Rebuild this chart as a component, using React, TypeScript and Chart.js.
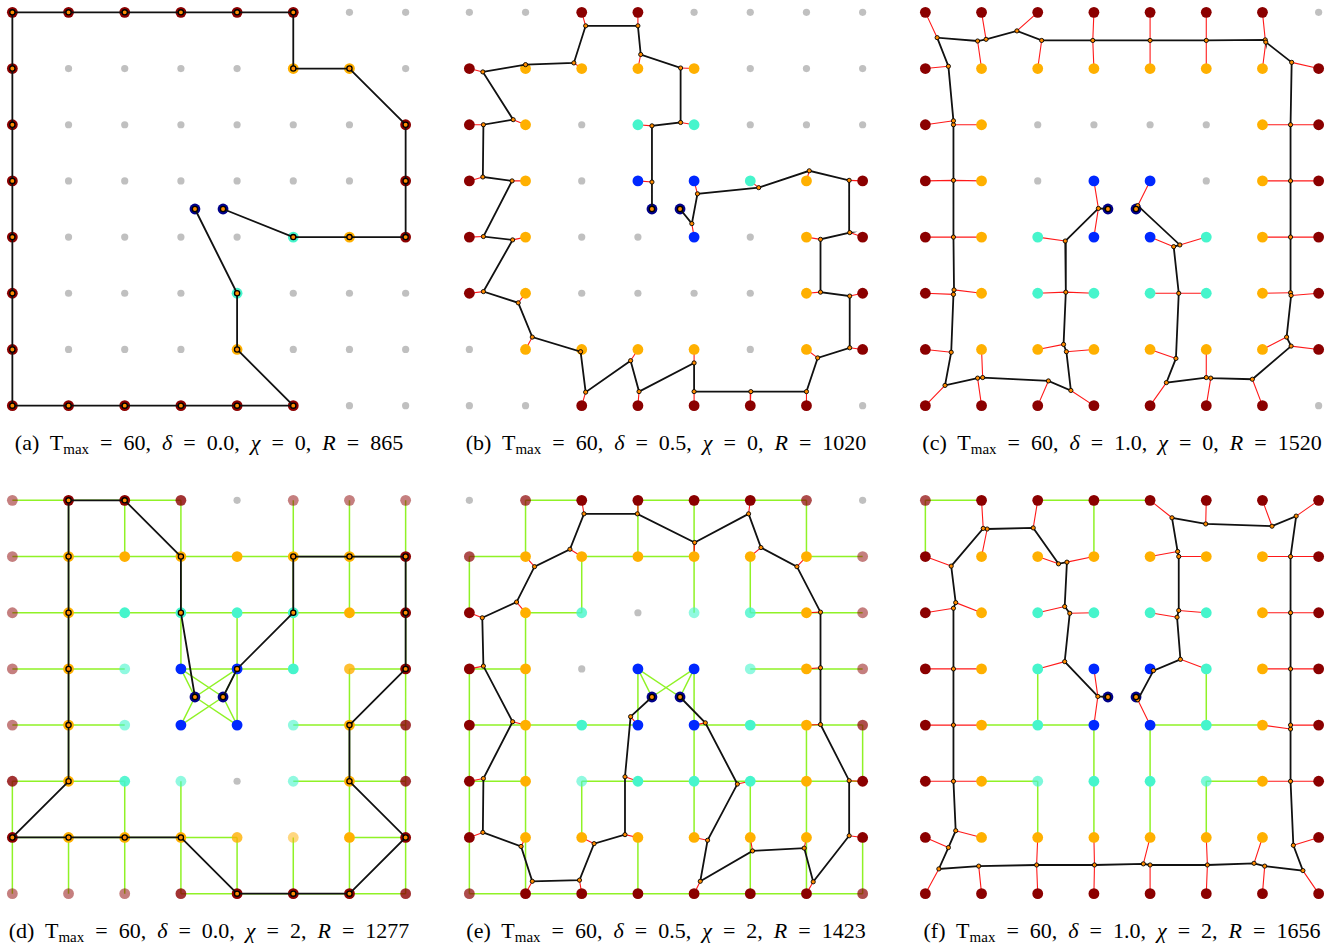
import React, { useEffect, useRef } from "react";
import { Chart, registerables } from "chart.js";
Chart.register(...registerables);

type P = [number, number];
type Obs = [number, number, number];
type Edge = [number, number, number, number];

// ---------- DATA ----------
const DEPOTS: P[] = [[3.25, 3.5], [3.75, 3.5]];

const captionLetters = ["a", "b", "c", "d", "e", "f"];
const tmaxValues = [60, 60, 60, 60, 60, 60];
const deltaValues = ["0.0", "0.5", "1.0", "0.0", "0.5", "1.0"];
const chiValues = [0, 0, 0, 2, 2, 2];
const rewardValues = [865, 1020, 1520, 1277, 1423, 1656];

// node types: R dark red, O orange, C cyan, B blue, G gray
const nodesA = ["RRRRRRGG", "RGGGGOOG", "RGGGGGGR", "RGGGGGGR", "RGGGGCOR", "RGGGCGGG", "RGGGOGGG", "RRRRRRGG"];
const nodesB = ["GGRRGGGG", "ROOOOGGG", "ROGCCGGG", "ROGBBCOR", "ROGGBGOR", "ROGGGGOR", "GOOOOGOR", "GGRRRRRG"];
const nodesC = ["RRRRRRRG", "ROOOOOOR", "ROGGGGOR", "ROGBBGOR", "ROCBBCOR", "ROCCCCOR", "ROOOOOOR", "RRRRRRRG"];
const nodesD = ["RRRRGRRR", "ROOOOOOR", "ROCCCCOR", "ROCBBCOR", "ROCBBCOR", "ROCCGCOR", "ROOOOOOR", "RRRRRRRR"];
const nodesE = ["GRRRRRRG", "ROOOOOOR", "ROCGCCOR", "ROGBBCOR", "ROCBBCOR", "ROCCCCOR", "ROOOOOOR", "RRRRRRRR"];
const nodesF = ["RRRRRRRR", "ROOOOOOR", "ROCCCCOR", "ROCBBCOR", "ROCBBCOR", "ROCCCCOR", "ROOOOOOR", "RRRRRRRR"];

// node opacity (digit d -> (d+1)/10)
const alphaD = ["49979444", "49999999", "49999999", "49599979", "49599597", "79859597", "99997499", "44479997"];
const alphaE = ["96999969", "69999994", "99795794", "99999594", "99999996", "99599999", "99999999", "69999996"];
const alphaF = ["69999999", "99999999", "99999999", "99999999", "99999999", "99699699", "99999999", "99999999"];

const pathA: P[] = [[3.25, 3.5], [4, 5], [4, 6], [5, 7], [4, 7], [3, 7], [2, 7], [1, 7], [0, 7], [0, 6], [0, 5], [0, 4], [0, 3], [0, 2], [0, 1], [0, 0], [1, 0], [2, 0], [3, 0], [4, 0], [5, 0], [5, 1], [6, 1], [7, 2], [7, 3], [7, 4], [6, 4], [5, 4], [3.75, 3.5]];

const pathB: P[] = [[3.25, 3.5], [3.25, 3.02], [3.25, 2.02], [3.76, 1.96], [3.76, 0.99], [3.05, 0.75], [3.0, 0.24], [2.07, 0.24], [1.86, 0.9], [1.0, 0.93], [0.24, 1.06], [0.78, 1.91], [0.25, 2.0], [0.24, 2.93], [0.76, 3.0], [0.25, 3.99], [0.77, 4.05], [0.25, 4.97], [0.87, 5.17], [1.12, 5.78], [1.98, 6.04], [2.07, 6.76], [2.87, 6.2], [3.02, 6.75], [4.0, 6.24], [4.0, 6.75], [5.01, 6.75], [6.0, 6.75], [6.2, 6.15], [6.77, 5.97], [6.77, 5.05], [6.25, 4.98], [6.25, 4.04], [6.77, 3.92], [6.76, 2.99], [6.05, 2.82], [5.15, 3.12], [4.06, 3.23], [3.96, 3.76], [3.75, 3.5]];
const obsB: Obs[] = [[1, 3, 3], [2, 3, 2], [3, 4, 2], [4, 4, 1], [5, 3, 1], [6, 3, 0], [7, 2, 0], [8, 2, 1], [9, 1, 1], [10, 0, 1], [11, 1, 2], [12, 0, 2], [13, 0, 3], [14, 1, 3], [15, 0, 4], [16, 1, 4], [17, 0, 5], [18, 1, 5], [19, 1, 6], [20, 2, 6], [21, 2, 7], [22, 3, 6], [23, 3, 7], [24, 4, 6], [25, 4, 7], [26, 5, 7], [27, 6, 7], [28, 6, 6], [29, 7, 6], [30, 7, 5], [31, 6, 5], [32, 6, 4], [33, 7, 4], [34, 7, 3], [35, 6, 3], [36, 5, 3], [37, 4, 3], [38, 4, 4]];

const pathC: P[] = [[3.25, 3.5], [3.08, 3.49], [2.49, 4.07], [2.5, 4.98], [2.46, 5.91], [2.51, 6.04], [2.59, 6.73], [2.19, 6.56], [1.02, 6.5], [0.93, 6.51], [0.35, 6.64], [0.46, 6.05], [0.5, 5.02], [0.51, 4.94], [0.5, 4.0], [0.5, 2.99], [0.5, 2.0], [0.5, 1.93], [0.41, 0.96], [0.21, 0.45], [0.93, 0.51], [1.08, 0.48], [1.63, 0.33], [2.07, 0.5], [2.98, 0.5], [4.0, 0.5], [5.0, 0.5], [6.05, 0.49], [6.06, 0.53], [6.52, 0.89], [6.5, 2.0], [6.5, 3.0], [6.5, 4.0], [6.5, 4.99], [6.51, 5.04], [6.43, 5.78], [6.51, 5.94], [5.82, 6.53], [5.08, 6.51], [5.0, 6.5], [4.29, 6.59], [4.46, 6.16], [4.51, 5.0], [4.42, 4.17], [4.53, 4.14], [3.78, 3.44], [3.75, 3.5]];
const obsC: Obs[] = [[1, 3, 3], [1, 3, 4], [2, 2, 4], [3, 2, 5], [3, 3, 5], [4, 2, 6], [5, 3, 6], [6, 3, 7], [7, 2, 7], [8, 1, 6], [9, 1, 7], [10, 0, 7], [11, 0, 6], [12, 0, 5], [13, 1, 5], [14, 0, 4], [14, 1, 4], [15, 0, 3], [15, 1, 3], [16, 1, 2], [17, 0, 2], [18, 0, 1], [19, 0, 0], [20, 1, 1], [21, 1, 0], [22, 2, 0], [23, 2, 1], [24, 3, 0], [24, 3, 1], [25, 4, 0], [25, 4, 1], [26, 5, 0], [26, 5, 1], [27, 6, 0], [28, 6, 1], [29, 7, 1], [30, 6, 2], [30, 7, 2], [31, 6, 3], [31, 7, 3], [32, 6, 4], [32, 7, 4], [33, 6, 5], [34, 7, 5], [35, 6, 6], [36, 7, 6], [37, 6, 7], [38, 5, 7], [39, 5, 6], [40, 4, 7], [41, 4, 6], [42, 4, 5], [42, 5, 5], [43, 4, 4], [44, 5, 4], [45, 4, 3]];

const pathD: P[] = [[3.25, 3.5], [3, 2], [3, 1], [2, 0], [1, 0], [1, 1], [1, 2], [1, 3], [1, 4], [1, 5], [0, 6], [1, 6], [2, 6], [3, 6], [4, 7], [5, 7], [6, 7], [7, 6], [6, 5], [6, 4], [7, 3], [7, 2], [7, 1], [6, 1], [5, 1], [5, 2], [4, 3], [3.75, 3.5]];
const edgesD: Edge[] = [
  [0, 0, 1, 0], [1, 0, 2, 0], [2, 0, 3, 0],
  [0, 1, 1, 1], [1, 1, 2, 1], [2, 1, 3, 1], [3, 1, 4, 1], [4, 1, 5, 1], [5, 1, 6, 1], [6, 1, 7, 1],
  [0, 2, 1, 2], [1, 2, 2, 2], [2, 2, 3, 2], [3, 2, 4, 2], [4, 2, 5, 2], [5, 2, 6, 2], [6, 2, 7, 2],
  [0, 3, 1, 3], [1, 3, 2, 3], [3, 3, 4, 3], [4, 3, 5, 3], [6, 3, 7, 3],
  [0, 4, 1, 4], [1, 4, 2, 4], [5, 4, 6, 4], [6, 4, 7, 4],
  [0, 5, 1, 5], [1, 5, 2, 5], [5, 5, 6, 5], [6, 5, 7, 5],
  [0, 6, 1, 6], [1, 6, 2, 6], [2, 6, 3, 6], [3, 6, 4, 6], [6, 6, 7, 6],
  [3, 7, 4, 7], [4, 7, 5, 7], [5, 7, 6, 7], [6, 7, 7, 7],
  [0, 5, 0, 6], [0, 6, 0, 7],
  [1, 0, 1, 1], [1, 1, 1, 2], [1, 2, 1, 3], [1, 3, 1, 4], [1, 4, 1, 5], [1, 6, 1, 7],
  [2, 0, 2, 1], [2, 5, 2, 6], [2, 6, 2, 7],
  [3, 0, 3, 1], [3, 1, 3, 2], [3, 2, 3, 3], [3, 5, 3, 6], [3, 6, 3, 7],
  [4, 2, 4, 3], [4, 3, 4, 4], [4, 6, 4, 7],
  [5, 0, 5, 1], [5, 1, 5, 2], [5, 2, 5, 3], [5, 6, 5, 7],
  [6, 0, 6, 1], [6, 1, 6, 2], [6, 3, 6, 4], [6, 4, 6, 5], [6, 5, 6, 6], [6, 6, 6, 7],
  [7, 0, 7, 1], [7, 1, 7, 2], [7, 2, 7, 3], [7, 3, 7, 4], [7, 4, 7, 5], [7, 5, 7, 6], [7, 6, 7, 7],
  [3.25, 3.5, 3, 3], [3.25, 3.5, 4, 3], [3.25, 3.5, 3, 4], [3.25, 3.5, 4, 4],
  [3.75, 3.5, 3, 3], [3.75, 3.5, 4, 3], [3.75, 3.5, 3, 4], [3.75, 3.5, 4, 4],
];

const pathE: P[] = [[3.25, 3.5], [2.87, 3.85], [2.77, 4.92], [2.77, 5.95], [2.22, 6.11], [1.96, 6.76], [1.12, 6.78], [0.92, 6.16], [0.24, 5.91], [0.25, 4.95], [0.77, 3.94], [0.25, 2.95], [0.23, 2.09], [0.84, 1.81], [1.16, 1.18], [1.79, 0.87], [2.04, 0.24], [2.99, 0.24], [4.01, 0.75], [4.97, 0.24], [5.19, 0.84], [5.83, 1.18], [6.25, 1.99], [6.25, 2.98], [6.25, 3.99], [6.76, 4.99], [6.76, 5.97], [6.12, 6.79], [5.96, 6.19], [5.04, 6.24], [4.11, 6.78], [4.24, 6.05], [4.77, 5.05], [4.2, 3.96], [3.75, 3.5]];
const obsE: Obs[] = [[1, 3, 4], [2, 3, 5], [3, 3, 6], [4, 2, 6], [5, 2, 7], [6, 1, 7], [7, 1, 6], [8, 0, 6], [9, 0, 5], [10, 1, 4], [11, 0, 3], [12, 0, 2], [13, 1, 2], [14, 1, 1], [15, 2, 1], [16, 2, 0], [17, 3, 0], [18, 4, 1], [19, 5, 0], [20, 5, 1], [21, 6, 1], [22, 6, 2], [23, 6, 3], [24, 6, 4], [25, 7, 5], [26, 7, 6], [27, 6, 7], [28, 6, 6], [29, 5, 6], [30, 4, 7], [31, 4, 6], [32, 5, 5], [33, 4, 4]];
const edgesE: Edge[] = [
  [1, 0, 2, 0], [3, 0, 4, 0], [4, 0, 5, 0], [5, 0, 6, 0],
  [0, 1, 1, 1], [2, 1, 3, 1], [3, 1, 4, 1], [6, 1, 7, 1],
  [1, 2, 2, 2], [5, 2, 6, 2], [6, 2, 7, 2],
  [0, 3, 1, 3], [5, 3, 6, 3], [6, 3, 7, 3],
  [0, 4, 1, 4], [1, 4, 2, 4], [2, 4, 3, 4], [4, 4, 5, 4], [5, 4, 6, 4], [6, 4, 7, 4],
  [0, 5, 1, 5], [2, 5, 3, 5], [3, 5, 4, 5], [4, 5, 5, 5], [5, 5, 6, 5], [6, 5, 7, 5],
  [0, 7, 1, 7], [1, 7, 2, 7], [2, 7, 3, 7], [3, 7, 4, 7], [4, 7, 5, 7], [5, 7, 6, 7], [6, 7, 7, 7],
  [0, 1, 0, 2], [0, 3, 0, 4], [0, 4, 0, 5], [0, 5, 0, 6], [0, 6, 0, 7],
  [1, 0, 1, 1], [1, 2, 1, 3], [1, 3, 1, 4], [1, 4, 1, 5], [1, 5, 1, 6], [1, 6, 1, 7],
  [2, 1, 2, 2], [2, 5, 2, 6],
  [3, 0, 3, 1], [3, 3, 3, 4], [3, 6, 3, 7],
  [4, 0, 4, 1], [4, 1, 4, 2], [4, 3, 4, 4], [4, 4, 4, 5], [4, 5, 4, 6],
  [5, 1, 5, 2], [5, 5, 5, 6], [5, 6, 5, 7],
  [6, 0, 6, 1], [6, 4, 6, 5], [6, 5, 6, 6], [6, 6, 6, 7],
  [7, 4, 7, 5], [7, 6, 7, 7],
  [3.25, 3.5, 3, 3], [3.25, 3.5, 4, 3], [3.75, 3.5, 3, 3], [3.75, 3.5, 4, 3],
];

const pathF: P[] = [[3.25, 3.5], [3.07, 3.49], [2.48, 2.87], [2.57, 2.01], [2.48, 1.89], [2.52, 1.1], [2.37, 1.13], [1.92, 0.49], [1.1, 0.51], [1.03, 0.5], [0.46, 1.17], [0.54, 1.82], [0.5, 1.92], [0.5, 3.0], [0.5, 4.0], [0.5, 5.0], [0.54, 5.88], [0.41, 6.18], [0.24, 6.56], [0.95, 6.51], [1.98, 6.49], [3.01, 6.49], [3.88, 6.47], [4.0, 6.49], [5.02, 6.49], [5.85, 6.46], [6.04, 6.51], [6.72, 6.59], [6.55, 6.14], [6.5, 5.0], [6.5, 4.07], [6.5, 4.0], [6.5, 3.0], [6.5, 2.0], [6.5, 1.0], [6.6, 0.28], [6.17, 0.46], [4.99, 0.42], [4.39, 0.31], [4.49, 0.91], [4.51, 1.0], [4.51, 1.96], [4.48, 2.08], [4.54, 2.83], [4.06, 3.03], [3.78, 3.55], [3.75, 3.5]];
const obsF: Obs[] = [[1, 3, 3], [1, 3, 4], [2, 2, 3], [3, 3, 2], [4, 2, 2], [5, 3, 1], [6, 2, 1], [7, 2, 0], [8, 1, 1], [9, 1, 0], [10, 0, 1], [11, 1, 2], [12, 0, 2], [13, 0, 3], [13, 1, 3], [14, 0, 4], [14, 1, 4], [15, 0, 5], [15, 1, 5], [16, 1, 6], [17, 0, 6], [18, 0, 7], [19, 1, 7], [20, 2, 6], [20, 2, 7], [21, 3, 6], [21, 3, 7], [22, 4, 6], [23, 4, 7], [24, 5, 6], [24, 5, 7], [25, 6, 6], [26, 6, 7], [27, 7, 7], [28, 7, 6], [29, 6, 5], [29, 7, 5], [30, 6, 4], [31, 7, 4], [32, 6, 3], [32, 7, 3], [33, 6, 2], [33, 7, 2], [34, 6, 1], [34, 7, 1], [35, 7, 0], [36, 6, 0], [37, 5, 0], [38, 4, 0], [39, 4, 1], [40, 5, 1], [41, 5, 2], [42, 4, 2], [43, 5, 3], [44, 4, 3], [45, 4, 4]];
const edgesF: Edge[] = [
  [0, 0, 1, 0], [2, 0, 3, 0], [3, 0, 4, 0], [0, 0, 0, 1], [3, 0, 3, 1],
  [2, 3, 2, 4], [5, 3, 5, 4],
  [1, 4, 2, 4], [2, 4, 3, 4], [4, 4, 5, 4], [5, 4, 6, 4],
  [3, 4, 3, 5], [3, 5, 3, 6], [4, 4, 4, 5], [4, 5, 4, 6],
  [1, 5, 2, 5], [2, 5, 2, 6], [5, 5, 6, 5], [5, 5, 5, 6],
];

// ---------- STYLE ----------
const NODE_RGB: Record<string, [number, number, number]> = {
  R: [139, 0, 0],
  O: [255, 176, 0],
  C: [70, 245, 204],
  B: [0, 40, 255],
  G: [192, 192, 192],
};
const GREEN = "rgba(124,240,0,0.85)";
const RED = "rgba(255,0,0,0.9)";
const NAVY = "#00008B";
const VERTEX = "#FF8C00";

type PanelDef = {
  nodes: string[];
  alpha?: string[];
  path: P[];
  obs?: Obs[];
  edges?: Edge[];
  onGrid: boolean;
};

const PANELS: PanelDef[] = [
  { nodes: nodesA, path: pathA, onGrid: true },
  { nodes: nodesB, path: pathB, obs: obsB, onGrid: false },
  { nodes: nodesC, path: pathC, obs: obsC, onGrid: false },
  { nodes: nodesD, alpha: alphaD, path: pathD, edges: edgesD, onGrid: true },
  { nodes: nodesE, alpha: alphaE, path: pathE, obs: obsE, edges: edgesE, onGrid: false },
  { nodes: nodesF, alpha: alphaF, path: pathF, obs: obsF, edges: edgesF, onGrid: false },
];

const SIZE = 418;
const LEFTS = [0, 457, 913];
const TOPS = [0, 488];

function buildConfig(p: PanelDef): any {
  const datasets: any[] = [];
  if (p.edges) {
    const d: any[] = [];
    for (const [a, b, c, e] of p.edges) d.push({ x: a, y: b }, { x: c, y: e }, { x: c, y: null });
    datasets.push({ data: d, showLine: true, borderColor: GREEN, borderWidth: 1.5, pointRadius: 0, order: 60 });
  }
  if (p.obs) {
    const d: any[] = [];
    for (const [vi, c, r] of p.obs) {
      const v = p.path[vi];
      d.push({ x: v[0], y: v[1] }, { x: c, y: r }, { x: c, y: null });
    }
    datasets.push({ data: d, showLine: true, borderColor: RED, borderWidth: 1.1, pointRadius: 0, order: 50 });
  }
  const nd: any[] = [];
  const bg: string[] = [];
  const rad: number[] = [];
  p.nodes.forEach((row, r) => {
    row.split("").forEach((ch, c) => {
      nd.push({ x: c, y: r });
      const a = p.alpha && ch !== "G" ? (parseInt(p.alpha[r][c], 10) + 1) / 10 : 1;
      const [R, G, B] = NODE_RGB[ch];
      bg.push(`rgba(${R},${G},${B},${a})`);
      rad.push(ch === "G" ? 3.6 : 5.4);
    });
  });
  datasets.push({ data: nd, pointBackgroundColor: bg, pointBorderWidth: 0, pointBorderColor: "rgba(0,0,0,0)", pointRadius: rad, order: 40 });
  datasets.push({
    data: DEPOTS.map(([x, y]) => ({ x, y })),
    pointBackgroundColor: NAVY, pointBorderWidth: 0, pointBorderColor: "rgba(0,0,0,0)", pointRadius: 5.4, order: 35,
  });
  const n = p.path.length;
  const big = (i: number) => p.onGrid || i === 0 || i === n - 1;
  datasets.push({
    data: p.path.map(([x, y]) => ({ x, y })),
    showLine: true,
    borderColor: "#111",
    borderWidth: 1.8,
    pointBackgroundColor: VERTEX,
    pointBorderColor: "#000",
    pointRadius: p.path.map((_, i) => (big(i) ? 2.6 : 2.1)),
    pointBorderWidth: p.path.map((_, i) => (big(i) ? 1.3 : 0.9)),
    order: 20,
  });
  return {
    type: "scatter",
    data: { datasets },
    options: {
      responsive: false,
      animation: false,
      events: [],
      layout: { padding: 0, autoPadding: false },
      plugins: { legend: { display: false }, tooltip: { enabled: false }, title: { display: false } },
      scales: {
        x: { type: "linear", min: -0.22, max: 7.22, display: false },
        y: { type: "linear", min: -0.22, max: 7.22, display: false, reverse: true },
      },
    },
  };
}

function Panel({ p, left, top }: { p: PanelDef; left: number; top: number }) {
  const ref = useRef<HTMLCanvasElement>(null);
  useEffect(() => {
    const chart = new Chart(ref.current as HTMLCanvasElement, buildConfig(p));
    return () => chart.destroy();
  }, [p]);
  return (
    <canvas
      ref={ref}
      width={SIZE}
      height={SIZE}
      style={{ position: "absolute", left, top, width: SIZE, height: SIZE }}
    />
  );
}

function Caption({ i, left, top }: { i: number; left: number; top: number }) {
  return (
    <div
      style={{
        position: "absolute",
        left: left - 20,
        top,
        width: SIZE + 40,
        textAlign: "center",
        fontFamily: "'Liberation Serif', 'DejaVu Serif', serif",
        fontSize: 22,
        wordSpacing: 5.5,
        color: "#000",
        whiteSpace: "nowrap",
        lineHeight: "24px",
      }}
    >
      ({captionLetters[i]}) T<sub style={{ fontSize: 15, verticalAlign: -4, lineHeight: 0 }}>max</sub> = {tmaxValues[i]},{" "}
      <i>δ</i> = {deltaValues[i]}, <i>χ</i> = {chiValues[i]}, <i>R</i> = {rewardValues[i]}
    </div>
  );
}

export default function App() {
  return (
    <div style={{ position: "absolute", left: 0, top: 0, width: 1339, height: 951, background: "#fff" }}>
      {PANELS.map((p, i) => {
        const left = LEFTS[i % 3];
        const top = TOPS[Math.floor(i / 3)];
        return (
          <React.Fragment key={i}>
            <Panel p={p} left={left} top={top} />
            <Caption i={i} left={left} top={top + 431} />
          </React.Fragment>
        );
      })}
    </div>
  );
}
